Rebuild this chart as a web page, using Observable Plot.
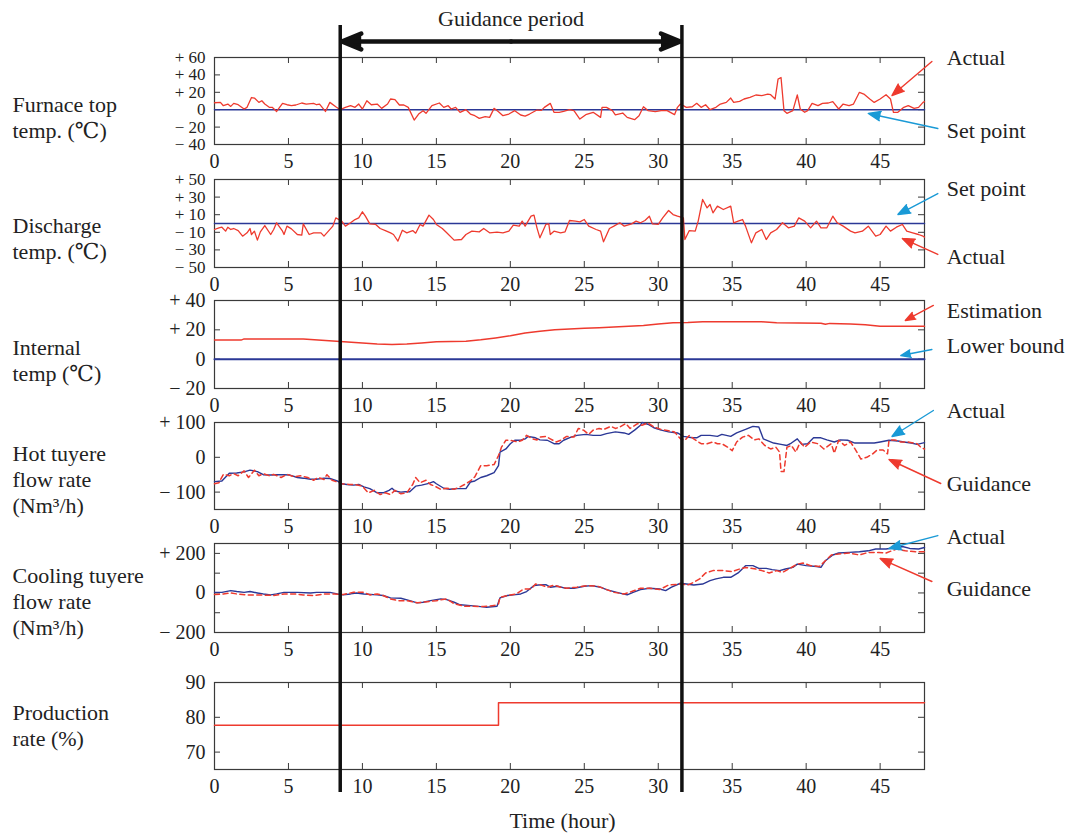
<!DOCTYPE html>
<html><head><meta charset="utf-8">
<script src="https://cdn.jsdelivr.net/npm/d3@7"></script>
<script src="https://cdn.jsdelivr.net/npm/@observablehq/plot@0.6"></script>
<style>
body{margin:0;background:#fff;}
#chart{position:relative;width:1070px;height:836px;overflow:hidden;background:#fff;}
#chart svg{position:absolute;left:0;overflow:visible;background:transparent;}
</style></head><body><div id="chart"></div>
<script>
// ---------- data ----------
const xTicks = [0,5,10,15,20,25,30,35,40,45];
const guidanceBounds = [8.5, 31.6];
const hours = [0, 48];

const furnaceSetPoint = [[0,0],[48,0]];
const furnaceActual = [[0,8],[0.4,8.4],[0.6,4.6],[0.9,6.5],[1.1,3.8],[1.3,7.3],[1.6,5.7],[2.0,0.8],[2.2,2.7],[2.5,14],[2.7,13.4],[3.0,8.4],[3.2,10.3],[3.4,6.5],[3.7,2.7],[3.9,2.7],[4.2,-2],[4.6,7.3],[4.9,5.7],[5.2,4.6],[5.5,5.4],[5.9,7.7],[6.2,6.5],[6.7,7.3],[6.9,5.7],[7.1,6.5],[7.5,-2],[7.8,8.4],[8.2,3.4],[8.5,0],[8.85,2.7],[9.2,4.6],[9.5,2.7],[9.75,6.5],[10,0.8],[10.3,10.3],[10.6,5.7],[11,6.5],[11.3,1.5],[11.7,6.5],[11.9,12.3],[12.2,11.5],[12.5,5.4],[12.8,5.4],[13.1,2.7],[13.5,-11.9],[13.8,-5],[14.1,-1.1],[14.3,-4.2],[14.7,4.6],[15.2,7.7],[15.5,2.7],[15.8,4.6],[16.0,0.8],[16.3,2.7],[16.6,-3.1],[17,0],[17.3,-5],[17.6,-6.9],[17.9,-10],[18.3,-8],[18.6,-8.8],[18.9,1.5],[19.2,-2.3],[19.5,-6.9],[19.9,-5],[20.3,-1.1],[20.7,-6.1],[21,-7.3],[21.3,-5],[21.8,-0.4],[22.1,-0.8],[22.3,2.7],[22.7,7.3],[22.95,-3],[23.3,-3],[23.6,-2],[24,0],[24.3,-1],[24.7,-10.7],[25.1,-5.7],[25.6,-3],[26.1,-8.8],[26.2,2.7],[26.5,2.7],[26.9,-1],[27.1,-6],[27.6,-3.8],[27.9,-8.8],[28.4,-11.5],[28.7,-7],[29,3.4],[29.3,-1],[29.8,-2.3],[30.2,-1],[30.6,-1],[31.1,-5.7],[31.3,2.7],[31.5,6.5],[31.9,2.7],[32.3,3.4],[32.6,7.3],[32.9,2.7],[33.2,5.7],[33.5,0],[33.9,2.7],[34.2,6.5],[34.6,8.4],[34.9,13.4],[35.1,8.4],[35.5,9.6],[35.8,12.3],[36.2,14.2],[36.6,16.9],[37,16.1],[37.4,18],[37.6,17.2],[37.9,12.3],[38.1,35.2],[38.3,37],[38.5,-1.1],[38.7,-4.2],[39.1,-1],[39.4,16.9],[39.6,0.8],[39.9,-3],[40.1,-1],[40.4,7.3],[40.8,4.6],[41.1,7.3],[41.5,7.7],[41.8,9.2],[42.2,0.8],[42.5,6.5],[42.9,4.6],[43.2,6.5],[43.6,20],[43.9,18],[44.3,12.3],[44.6,8.4],[45,12.3],[45.4,17.2],[45.7,12.3],[45.9,-3],[46.2,-3],[46.6,2.7],[46.9,4.6],[47.3,1.5],[47.6,2.7],[47.9,8.4],[48,9.2]];

const dischargeSetPoint = [[0,0],[48,0]];
const dischargeActual = [[0,-6.8],[0.3,-4.9],[0.5,-4.2],[0.75,-8.7],[0.9,-4.2],[1.1,-6.8],[1.3,-5.7],[1.6,-8],[1.9,-14.4],[2.2,-10.6],[2.4,-5.7],[2.5,-12.5],[2.7,-8.7],[2.9,-18.9],[3.1,-9.5],[3.4,-2.3],[3.8,-12.5],[4.0,-6.8],[4.2,0.8],[4.6,-8.7],[4.7,-12.5],[4.9,-3],[5.2,-6.1],[5.6,-12.5],[5.9,-13.3],[6.0,-0.4],[6.4,-12.5],[6.7,-10.6],[7.2,-10.6],[7.4,-14.4],[7.7,-8.7],[8.0,-3],[8.2,6.4],[8.4,4.5],[8.6,2.7],[8.85,-3],[9.2,0.8],[9.5,4.5],[9.75,6.4],[10,13.3],[10.2,8.3],[10.5,-0.4],[10.9,-1.1],[11.2,-5.7],[11.55,-8],[11.9,-10.6],[12.1,-12.5],[12.4,-20],[12.7,-7.6],[13,-10.6],[13.4,-8],[13.6,-11],[13.9,-1.1],[14.1,-3],[14.5,9.5],[14.8,4.5],[15,-1.1],[15.4,-5.7],[15.7,-10.6],[16.2,-18.9],[16.7,-18.2],[17,-12.5],[17.4,-8.7],[17.9,-9.5],[18.2,-5.7],[18.6,-10.6],[19.1,-9.8],[19.5,-10.6],[19.9,-8.7],[20.2,-1.9],[20.6,-3],[20.8,2.7],[21,-3],[21.4,8.3],[21.6,9.5],[21.8,-4.9],[22.0,-16.3],[22.4,-1.1],[22.6,-0.4],[22.7,-12.5],[22.95,-8.7],[23.4,-10.6],[23.7,-9.5],[24,3.4],[24.4,2.7],[24.7,1.9],[25,4.5],[25.3,-3],[25.8,-6.8],[26.1,-8.7],[26.3,-20.8],[26.7,-5.7],[27,-3],[27.4,0.8],[27.7,-3],[28.2,-0.4],[28.5,2.7],[28.8,0.8],[29.1,3.4],[29.4,8.3],[29.6,-0.4],[30,-1.1],[30.3,6.4],[30.7,14.8],[31,10.2],[31.3,8.3],[31.7,6.4],[31.8,-18.2],[32.1,-8],[32.5,-8.7],[32.7,2.7],[33,27.3],[33.3,17.8],[33.5,21.6],[33.7,12.1],[34,19.7],[34.4,15.9],[34.9,19.7],[35.1,0.8],[35.4,2.7],[35.7,4.5],[35.9,-3],[36.3,-22],[36.6,-10.6],[37,-6.8],[37.3,-18.2],[37.6,-10.6],[38,-6.8],[38.4,0.8],[38.8,-4.9],[39.2,-3],[39.5,6.4],[39.9,2.7],[40.3,-4.9],[40.7,2.7],[41,-4.9],[41.4,-4.9],[41.8,8.3],[42.1,0.8],[42.5,-3],[43,-8.7],[43.3,-10.6],[43.8,-8.7],[44.2,-3],[44.7,-14.4],[45,-12.5],[45.4,-3],[45.7,-8.7],[46.1,-4.2],[46.5,-1.1],[46.8,-8.7],[47.2,-10.6],[47.6,-12.5],[47.9,-14.4],[48,-15.5]];

const internalLowerBound = [[0,0],[48,0]];
const internalEstimation = [[0,13],[1.8,13],[2,13.8],[6,13.8],[7,13],[8.5,12],[10,11],[11,10.3],[12,10],[13,10.3],[14,11],[15,11.8],[17,12.2],[18,13.2],[19,14.5],[20,16],[21,17.8],[22,19],[23,20],[24,20.5],[25,21],[26,21.5],[27,22],[28,22.5],[29,23],[30,24],[31,24.8],[32,25],[33,25.5],[37,25.5],[38,24.8],[41,24.5],[41.3,23.8],[41.6,24.4],[43,24],[44,23.5],[45,22.5],[48,22.5]];

const hotActual = [[0,-70],[0.5,-68],[1.0,-46],[1.5,-45],[2.0,-42],[2.4,-37],[2.9,-41],[3.3,-50],[3.8,-51],[4.2,-50],[4.7,-50],[5.1,-51],[5.6,-58],[6.0,-60],[6.5,-63],[6.9,-63],[7.4,-60],[7.8,-61],[8.3,-68],[8.6,-76],[8.95,-78],[9.4,-80],[9.75,-78],[10.1,-85],[10.5,-90],[11,-102],[11.4,-102],[11.8,-95],[12,-89],[12.2,-97],[12.6,-100],[12.9,-99],[13.2,-99],[13.6,-83],[14,-80],[14.5,-75],[14.8,-70],[15,-76],[15.5,-89],[15.9,-92],[16.4,-90],[17,-90],[17.3,-71],[17.6,-68],[18,-58],[18.4,-53],[18.9,-44],[19.2,-24],[19.3,15],[19.7,24],[20,39],[20.3,49],[20.7,49],[21,53],[21.2,60],[21.7,56],[22,50],[22.5,49],[22.95,39],[23.3,39],[23.6,49],[24.1,58],[24.5,63],[25.1,66],[25.6,63],[26.1,63],[26.5,68],[27.1,73],[27.7,70],[28,66],[28.4,78],[28.8,92],[28.9,100],[29.3,95],[29.7,85],[30.2,78],[30.7,73],[31.3,70],[31.7,60],[32.3,56],[32.6,56],[32.9,63],[33.5,63],[34,60],[34.3,66],[34.6,63],[34.9,60],[35.3,70],[35.9,80],[36.4,89],[36.8,87],[37.1,53],[37.8,41],[38.3,37],[38.7,34],[39,41],[39.4,53],[39.7,37],[40.1,39],[40.5,56],[41,56],[41.4,50],[41.9,44],[42.3,50],[42.8,49],[43.3,41],[43.9,41],[44.6,41],[45,44],[45.6,49],[46.2,47],[46.6,44],[47.1,41],[47.5,37],[48,42]];
const hotGuidance = [[0,-76],[0.3,-73],[0.6,-49],[1.0,-53],[1.3,-47],[1.6,-53],[2.0,-39],[2.3,-58],[2.7,-37],[3.0,-53],[3.3,-47],[3.7,-53],[4.0,-49],[4.5,-58],[4.9,-49],[5.4,-56],[5.8,-53],[6.3,-58],[6.7,-66],[7.0,-58],[7.4,-64],[7.6,-50],[7.95,-66],[8.3,-71],[8.6,-76],[9.1,-78],[9.5,-78],[10,-83],[10.4,-102],[10.8,-95],[11.2,-107],[11.55,-102],[11.9,-107],[12.2,-95],[12.6,-105],[13,-102],[13.4,-78],[13.6,-58],[13.9,-73],[14.3,-66],[14.6,-78],[14.9,-83],[15.3,-92],[15.7,-89],[16.2,-92],[16.6,-85],[17,-76],[17.3,-68],[17.6,-56],[18,-24],[18.4,-24],[18.9,-21],[19.2,5],[19.4,29],[19.7,49],[20,49],[20.5,44],[20.8,49],[21.1,63],[21.5,53],[21.8,50],[22.0,58],[22.4,60],[22.7,53],[23.1,44],[23.4,49],[23.8,60],[24.3,58],[24.6,83],[24.95,78],[25.3,66],[25.6,78],[26,83],[26.3,80],[26.8,89],[27.1,83],[27.4,87],[27.8,97],[28.1,83],[28.6,97],[28.9,92],[29.3,99],[29.7,87],[30.2,80],[30.7,76],[31.1,73],[31.5,53],[31.8,49],[32.1,63],[32.4,53],[32.9,39],[33.3,39],[33.7,44],[34,39],[34.3,39],[34.7,29],[35,19],[35.3,44],[35.7,58],[36.1,63],[36.5,50],[36.8,53],[37.2,34],[37.6,24],[37.95,29],[38.2,15],[38.3,-41],[38.5,-41],[38.7,29],[39,34],[39.3,15],[39.6,44],[39.9,29],[40.3,44],[40.8,39],[41.2,24],[41.7,39],[41.9,12],[42.2,49],[42.6,34],[43,44],[43.3,24],[43.7,-5],[44.1,0],[44.5,10],[44.8,21],[45.2,21],[45.5,10],[45.6,49],[46,50],[46.4,44],[46.9,44],[47.5,39],[47.8,27],[48,24]];

const coolActual = [[0,3],[0.5,3],[1.1,12],[1.5,7],[2,3],[2.4,7],[2.9,0],[3.3,-5],[3.8,-10],[4.2,-5],[4.7,3],[5.6,3],[6.5,0],[6.9,3],[7.8,3],[8.3,-5],[8.7,-10],[9.2,-5],[9.6,0],[10.1,-5],[11,-10],[11.4,-13],[11.9,-25],[12.6,-27],[13.2,-39],[13.7,-50],[14.1,-47],[14.6,-39],[15.3,-30],[15.7,-34],[16.2,-47],[16.6,-60],[17.3,-64],[18,-69],[18.4,-72],[19.1,-67],[19.3,-25],[19.8,-13],[20.2,-10],[20.7,-5],[21.1,7],[21.6,37],[21.9,40],[22.4,42],[22.7,29],[23.2,34],[23.7,24],[24.3,24],[25,34],[25.5,37],[26.1,29],[26.5,17],[27.2,3],[27.9,-10],[28.3,3],[28.8,17],[29.4,24],[30.1,20],[30.5,12],[30.9,29],[31.5,49],[31.9,45],[32.4,40],[33,45],[33.5,62],[33.9,71],[34.4,79],[34.9,79],[35.4,101],[35.9,138],[36.4,138],[36.8,124],[37.3,124],[37.7,118],[38.2,113],[38.6,121],[39.1,129],[39.4,146],[40,138],[40.7,134],[41,129],[41.3,163],[41.8,192],[42.2,202],[42.9,205],[43.6,208],[44.2,213],[44.7,222],[45.4,222],[46.1,230],[46.5,235],[47,225],[47.6,222],[48,230]];
const coolGuidance = [[0,-8],[0.6,-5],[1.1,0],[1.5,-5],[2.2,-10],[3.1,-10],[4,-13],[4.7,-5],[5.4,-5],[6,-10],[6.7,-13],[7.4,-5],[8.1,-5],[8.7,-8],[9.4,3],[10.1,3],[10.5,-10],[11,-5],[11.4,-13],[11.9,-30],[12.4,-39],[13,-39],[13.7,-50],[14.4,-44],[15,-39],[15.7,-30],[16.2,-55],[16.9,-67],[17.5,-67],[18.2,-69],[18.9,-64],[19.2,-55],[19.3,-22],[20,-10],[20.4,-5],[20.9,20],[21.4,20],[21.7,45],[22,42],[22.5,29],[22.95,40],[23.4,29],[23.8,24],[24.5,29],[25.2,37],[25.9,34],[26.4,20],[27,3],[27.7,-5],[28.2,7],[28.8,24],[29.4,24],[30.1,17],[30.7,40],[31.5,45],[32,40],[32.4,54],[32.8,71],[33.2,101],[33.7,113],[34.4,113],[35,108],[35.5,121],[35.9,129],[36.6,121],[37,113],[37.5,101],[38,113],[38.4,104],[38.9,124],[39.4,146],[39.8,151],[40.3,138],[40.9,134],[41.3,163],[41.7,192],[42.2,197],[42.9,202],[43.6,192],[44.2,205],[44.9,205],[45.4,202],[46.1,222],[46.7,213],[47.4,208],[48,208]];

const productionRate = [[0,77.7],[19.2,84.2],[48,84.2]];

// annotations: text anchor and arrow ends, in data units
const notesFurnace = [
  {text:"Actual", at:[49.5,60], from:[48.5,55.4], to:[45.8,16.3], kind:"red"},
  {text:"Set point", at:[49.5,-25], from:[48.9,-21.6], to:[44.2,-4.4], kind:"blue"}];
const notesDischarge = [
  {text:"Set point", at:[49.5,39.8], from:[48.9,34], to:[46.2,10.2], kind:"blue"},
  {text:"Actual", at:[49.5,-37.5], from:[48.9,-35.2], to:[46.5,-17], kind:"red"}];
const notesInternal = [
  {text:"Estimation", at:[49.5,33.2], from:[48.6,36.6], to:[46.7,26.4], kind:"red"},
  {text:"Lower bound", at:[49.5,9.3], from:[48.5,6.6], to:[46.4,2.5], kind:"blue"}];
const notesHot = [
  {text:"Actual", at:[49.5,134.5], from:[48.6,134.5], to:[45.8,59.8], kind:"blue"},
  {text:"Guidance", at:[49.5,-78], from:[49.1,-75.3], to:[45.6,-6.3], kind:"red"}];
const notesCool = [
  {text:"Actual", at:[49.5,285], from:[48.9,290], to:[45.6,224.7], kind:"blue"},
  {text:"Guidance", at:[49.5,22.5], from:[48.5,57.9], to:[45.0,174], kind:"red"}];

// ---------- styles ----------
const RED = "#ee3a2e", BLUE = "#2b3896", CYAN = "#1a9ad6", INK = "#222", FRAME = "#3a3a3a";
const FONT = "'Liberation Serif','DejaVu Serif',serif";
const signed = d => d > 0 ? `+ ${d}` : d < 0 ? `\u2212 ${-d}` : "0";
const plain = d => `${d}`;

const panels = [
  {top:57, bottom:144, domain:[-40,60], tickMarks:[60,40,20,0,-20,-40], tickLabels:[60,40,20,0,-20,-40], fmt:signed, tickFont:17,
   label:"Furnace top\ntemp. (\u2103)", labelDy:15.5,
   series:[{data:furnaceSetPoint, color:BLUE, width:1.5},{data:furnaceActual, color:RED, width:1.3}], notes:notesFurnace},
  {top:179, bottom:267, domain:[-50,50], tickMarks:[50,30,10,-10,-30,-50], tickLabels:[50,30,10,-10,-30,-50], fmt:signed, tickFont:17,
   label:"Discharge\ntemp. (\u2103)", labelDy:14,
   series:[{data:dischargeSetPoint, color:BLUE, width:1.5},{data:dischargeActual, color:RED, width:1.3}], notes:notesDischarge},
  {top:300, bottom:388, domain:[-20,40], tickMarks:[40,20,0,-20], tickLabels:[40,20,0,-20], fmt:signed, tickFont:20,
   label:"Internal\ntemp (\u2103)", labelDy:15,
   series:[{data:internalLowerBound, color:BLUE, width:2},{data:internalEstimation, color:RED, width:1.5}], notes:notesInternal},
  {top:422, bottom:509, domain:[-150,100], tickMarks:[100,0,-100], tickLabels:[100,0,-100], fmt:signed, tickFont:20,
   label:"Hot tuyere\nflow rate\n(Nm\u00b3/h)", labelDy:12.5,
   series:[{data:hotActual, color:BLUE, width:1.4},{data:hotGuidance, color:RED, width:1.5, dash:"5,3.5"}], notes:notesHot},
  {top:543, bottom:632, domain:[-200,250], tickMarks:[200,100,0,-100,-200], tickLabels:[200,0,-200], fmt:signed, tickFont:20,
   label:"Cooling tuyere\nflow rate\n(Nm\u00b3/h)", labelDy:12.5,
   series:[{data:coolActual, color:BLUE, width:1.4},{data:coolGuidance, color:RED, width:1.5, dash:"5,3.5"}], notes:notesCool},
  {top:682, bottom:769, domain:[65,90], tickMarks:[90,80,70], tickLabels:[90,80,70], fmt:plain, tickFont:20,
   label:"Production\nrate (%)", labelDy:-1.5,
   series:[{data:productionRate, color:RED, width:1.5, curve:"step-after"}], notes:[]}
];

const W = 1070, ML = 214, MR = 146, MT = 20, MB = 34;
const frameW = W - ML - MR;
const root = document.getElementById("chart");

for (const p of panels) {
  const H = p.bottom - p.top;
  const marks = [
    Plot.frame({stroke: FRAME, strokeWidth: 1.2}),
    // inward tick marks
    Plot.tickX(xTicks.filter(d => d > 0), {x: d => d, insetTop: H - 6, stroke: FRAME}),
    Plot.tickX(xTicks.filter(d => d > 0), {x: d => d, insetBottom: H - 6, stroke: FRAME}),
    Plot.tickY(p.tickMarks, {y: d => d, insetRight: frameW - 6, stroke: FRAME}),
    Plot.tickY(p.tickMarks, {y: d => d, insetLeft: frameW - 6, stroke: FRAME}),
    Plot.axisX({ticks: xTicks, tickSize: 0, tickPadding: 9, label: null, fontSize: 20, tickFormat: plain}),
    Plot.axisY({ticks: p.tickLabels, tickSize: 0, tickPadding: 9, label: null, fontSize: p.tickFont, tickFormat: p.fmt}),
    ...p.series.map(s => Plot.line(s.data, {x: d => d[0], y: d => d[1], stroke: s.color, strokeWidth: s.width,
      strokeDasharray: s.dash, curve: s.curve || "linear", strokeLinejoin: "round"})),
    Plot.text([p.label], {frameAnchor: "left", dx: -(ML - 12), dy: p.labelDy, textAnchor: "start",
      lineAnchor: "middle", lineHeight: 1.18, fontSize: 22, fill: INK}),
    Plot.arrow(p.notes, {x1: d => d.from[0], y1: d => d.from[1], x2: d => d.to[0], y2: d => d.to[1],
      stroke: d => d.kind === "red" ? RED : CYAN, fill: d => d.kind === "red" ? RED : CYAN,
      strokeWidth: 1.4, headLength: 14, headAngle: 42}),
    Plot.text(p.notes, {x: d => d.at[0], y: d => d.at[1], text: d => d.text, textAnchor: "start",
      fontSize: 22, fill: INK})
  ];
  const svg = Plot.plot({
    width: W, height: H + MT + MB,
    marginLeft: ML, marginRight: MR, marginTop: MT, marginBottom: MB,
    x: {domain: hours, label: null},
    y: {domain: p.domain, label: null},
    style: {fontFamily: FONT, fontSize: "20px", color: INK, background: "transparent", overflow: "visible"},
    marks
  });
  svg.style.top = (p.top - MT) + "px";
  root.appendChild(svg);
}

// overlay: guidance period and time axis title
const OT = 41, OB = 44;
const mid = (guidanceBounds[0] + guidanceBounds[1]) / 2;
const overlay = Plot.plot({
  width: W, height: 836,
  marginLeft: ML, marginRight: MR, marginTop: OT, marginBottom: OB,
  x: {domain: hours, axis: null},
  y: {domain: [0, 1], axis: null},
  style: {fontFamily: FONT, fontSize: "22px", color: INK, background: "transparent", overflow: "visible"},
  marks: [
    Plot.ruleX(guidanceBounds, {x: d => d, stroke: "#111", strokeWidth: 3.5, insetTop: -16}),
    Plot.arrow(guidanceBounds, {x1: () => mid, y1: () => 1, x2: d => d, y2: () => 1,
      stroke: "#111", fill: "#111", strokeWidth: 4.5, headLength: 7, headAngle: 44, insetEnd: 1.5}),
    Plot.text(["Guidance period"], {x: () => mid, frameAnchor: "top", lineAnchor: "middle", dy: -23, fontSize: 22, fill: INK}),
    Plot.text(["Time (hour)"], {frameAnchor: "bottom", lineAnchor: "middle", dx: -7, dy: 28, fontSize: 22, fill: INK})
  ]
});
overlay.style.top = "0px";
overlay.style.pointerEvents = "none";
root.appendChild(overlay);
</script></body></html>
